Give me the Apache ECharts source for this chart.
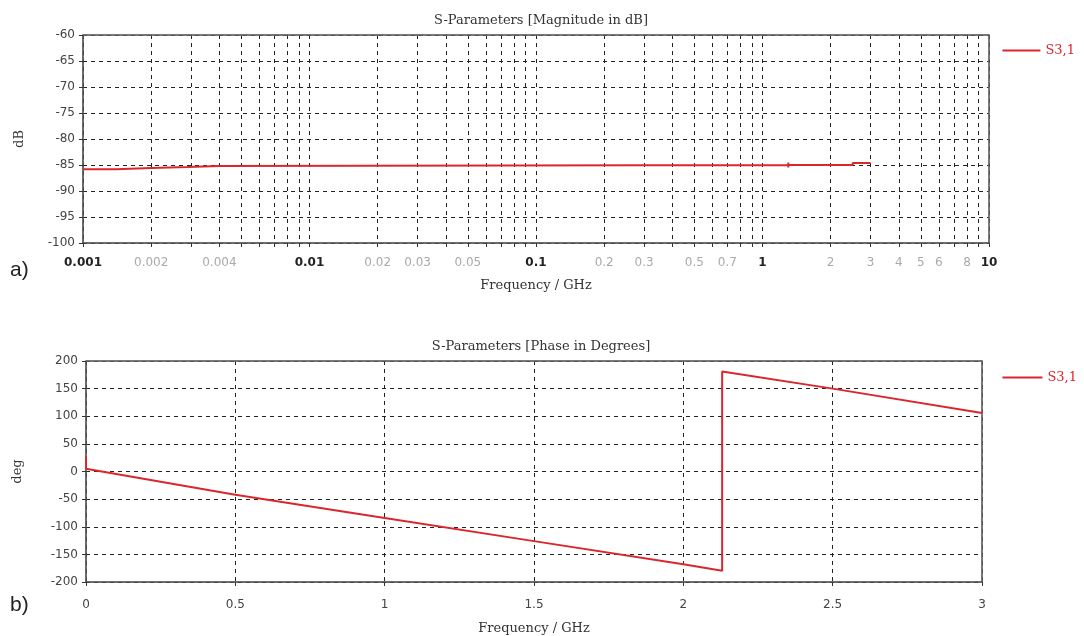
<!DOCTYPE html>
<html>
<head>
<meta charset="utf-8">
<script src="https://cdn.jsdelivr.net/npm/echarts@6/dist/echarts.min.js"></script>
<style>
html,body{margin:0;padding:0;background:#fff;}
#c{width:1084px;height:636px;}
</style>
</head>
<body>
<div id="c"></div>
<script>
// ---- data ----
const seriesName = 'S3,1';
// a) magnitude in dB vs frequency (GHz, log axis)
const magFreq = [0.001, 0.0014, 0.0014, 0.002, 0.002, 0.0029, 0.0029, 0.004, 0.004, 1.3, 1.3, 1.3, 1.3, 2.5, 2.5, 3];
const magDb   = [-85.8, -85.8, -85.6, -85.6, -85.4, -85.4, -85.2, -85.2, -85.0, -85.0, -84.5, -85.5, -85.0, -85.0, -84.6, -84.6];
// b) phase in degrees vs frequency (GHz, linear axis)
const phaseFreq = [0, 0, 0.006, 0.5, 1.0, 1.5, 2.0, 2.13, 2.13, 2.5, 3.0];
const phaseDeg  = [28, 5, 2, -42, -84, -126, -168, -179.5, 181, 150, 106];
// tick labels / grid positions for the log axis
const logGridValues = [0.001,0.002,0.003,0.004,0.005,0.006,0.007,0.008,0.009,
  0.01,0.02,0.03,0.04,0.05,0.06,0.07,0.08,0.09,
  0.1,0.2,0.3,0.4,0.5,0.6,0.7,0.8,0.9,
  1,2,3,4,5,6,7,8,9,10];
const logLabelValues = [0.001,0.002,0.004,0.01,0.02,0.03,0.05,0.1,0.2,0.3,0.5,0.7,1,2,3,4,5,6,8,10];
const decadeLabels = [0.001,0.01,0.1,1,10];

const RED = '#d9272d';
const SANS = 'DejaVu Sans';
const SERIF = 'DejaVu Serif';

const chart = echarts.init(document.getElementById('c'), null, {renderer:'canvas'});

function fmtLog(v){
  const s = String(parseFloat(Number(v).toPrecision(6)));
  const isDec = decadeLabels.some(d => Math.abs(d - v) / d < 1e-6);
  return isDec ? '{d|' + s + '}' : '{g|' + s + '}';
}

const dashed = {show:true, lineStyle:{color:'#222', width:1, type:[4,4]}};
const axisLineStyle = {show:true, onZero:false, lineStyle:{color:'#555', width:1.5}};
const frameLine = {show:true, onZero:false, lineStyle:{color:'#666', width:1.5}};
const hidden = {axisTick:{show:false}, axisLabel:{show:false}, splitLine:{show:false}};

const option = {
  backgroundColor:'#ffffff',
  animation:false,
  title:[
    {text:'S-Parameters [Magnitude in dB]', left:536, top:9, textAlign:'center',
     textStyle:{fontFamily:SERIF, fontSize:13, fontWeight:'normal', color:'#333'}},
    {text:'S-Parameters [Phase in Degrees]', left:536, top:335, textAlign:'center',
     textStyle:{fontFamily:SERIF, fontSize:13, fontWeight:'normal', color:'#333'}}
  ],
  legend:[
    {data:[seriesName], right:4, top:39, icon:'rect', itemWidth:38, itemHeight:2, itemGap:6,
     textStyle:{fontFamily:SERIF, fontSize:13, color:RED}},
    {data:[seriesName], right:2, top:366, icon:'rect', itemWidth:40, itemHeight:2, itemGap:6,
     textStyle:{fontFamily:SERIF, fontSize:13, color:RED}}
  ],
  grid:[
    {left:83, top:35, width:906, height:208, show:true, borderColor:'#666', borderWidth:1, backgroundColor:'#fff'},
    {left:86, top:361, width:896, height:221, show:true, borderColor:'#666', borderWidth:1, backgroundColor:'#fff'}
  ],
  xAxis:[
    {type:'log', logBase:10, min:0.001, max:10, gridIndex:0,
     name:'Frequency / GHz', nameLocation:'middle', nameGap:36,
     nameTextStyle:{fontFamily:SERIF, fontSize:13, color:'#333'},
     axisLine:axisLineStyle,
     axisTick:{show:true, customValues:logGridValues, length:4, lineStyle:{color:'#333'}},
     axisLabel:{customValues:logLabelValues, margin:14, formatter:fmtLog, fontFamily:SANS, fontSize:12,
       rich:{d:{fontFamily:SANS, fontSize:12, color:'#222', fontWeight:'bold'},
             g:{fontFamily:SANS, fontSize:12, color:'#aaa'}}},
     splitLine:dashed, minorSplitLine:{show:false}},
    {type:'value', min:0, max:3, interval:0.5, gridIndex:1,
     name:'Frequency / GHz', nameLocation:'middle', nameGap:40,
     nameTextStyle:{fontFamily:SERIF, fontSize:13, color:'#333'},
     axisLine:axisLineStyle,
     axisTick:{show:true, length:4, lineStyle:{color:'#333'}},
     axisLabel:{margin:17, fontFamily:SANS, fontSize:12, color:'#444'},
     splitLine:dashed},
    // frame tops
    Object.assign({type:'log', logBase:10, min:0.001, max:10, gridIndex:0, position:'top', axisLine:frameLine}, hidden),
    Object.assign({type:'value', min:0, max:3, gridIndex:1, position:'top', axisLine:frameLine}, hidden)
  ],
  yAxis:[
    {type:'value', min:-100, max:-60, interval:5, gridIndex:0,
     name:'dB', nameLocation:'middle', nameGap:57, nameRotate:90,
     nameTextStyle:{fontFamily:SERIF, fontSize:13, color:'#333'},
     axisLine:axisLineStyle,
     axisTick:{show:true, length:4, lineStyle:{color:'#333'}},
     axisLabel:{margin:8, fontFamily:SANS, fontSize:12, color:'#444'},
     splitLine:dashed},
    {type:'value', min:-200, max:200, interval:50, gridIndex:1,
     name:'deg', nameLocation:'middle', nameGap:62, nameRotate:90,
     nameTextStyle:{fontFamily:SERIF, fontSize:13, color:'#333'},
     axisLine:axisLineStyle,
     axisTick:{show:true, length:4, lineStyle:{color:'#333'}},
     axisLabel:{margin:8, fontFamily:SANS, fontSize:12, color:'#444'},
     splitLine:dashed},
    // frame rights
    Object.assign({type:'value', min:-100, max:-60, gridIndex:0, position:'right', axisLine:frameLine}, hidden),
    Object.assign({type:'value', min:-200, max:200, gridIndex:1, position:'right', axisLine:frameLine}, hidden)
  ],
  series:[
    {name:seriesName, type:'line', xAxisIndex:0, yAxisIndex:0, symbol:'none',
     lineStyle:{color:RED, width:2}, itemStyle:{color:RED},
     data:magFreq.map((f,i)=>[f, magDb[i]])},
    {name:seriesName, type:'line', xAxisIndex:1, yAxisIndex:1, symbol:'none',
     lineStyle:{color:RED, width:2}, itemStyle:{color:RED},
     data:phaseFreq.map((f,i)=>[f, phaseDeg[i]])}
  ],
  graphic:[
    {type:'text', left:10, top:260, style:{text:'a)', fontFamily:'Liberation Sans', fontSize:21, fill:'#222'}},
    {type:'text', left:10, top:595, style:{text:'b)', fontFamily:'Liberation Sans', fontSize:21, fill:'#222'}}
  ]
};
chart.setOption(option);
</script>
</body>
</html>
